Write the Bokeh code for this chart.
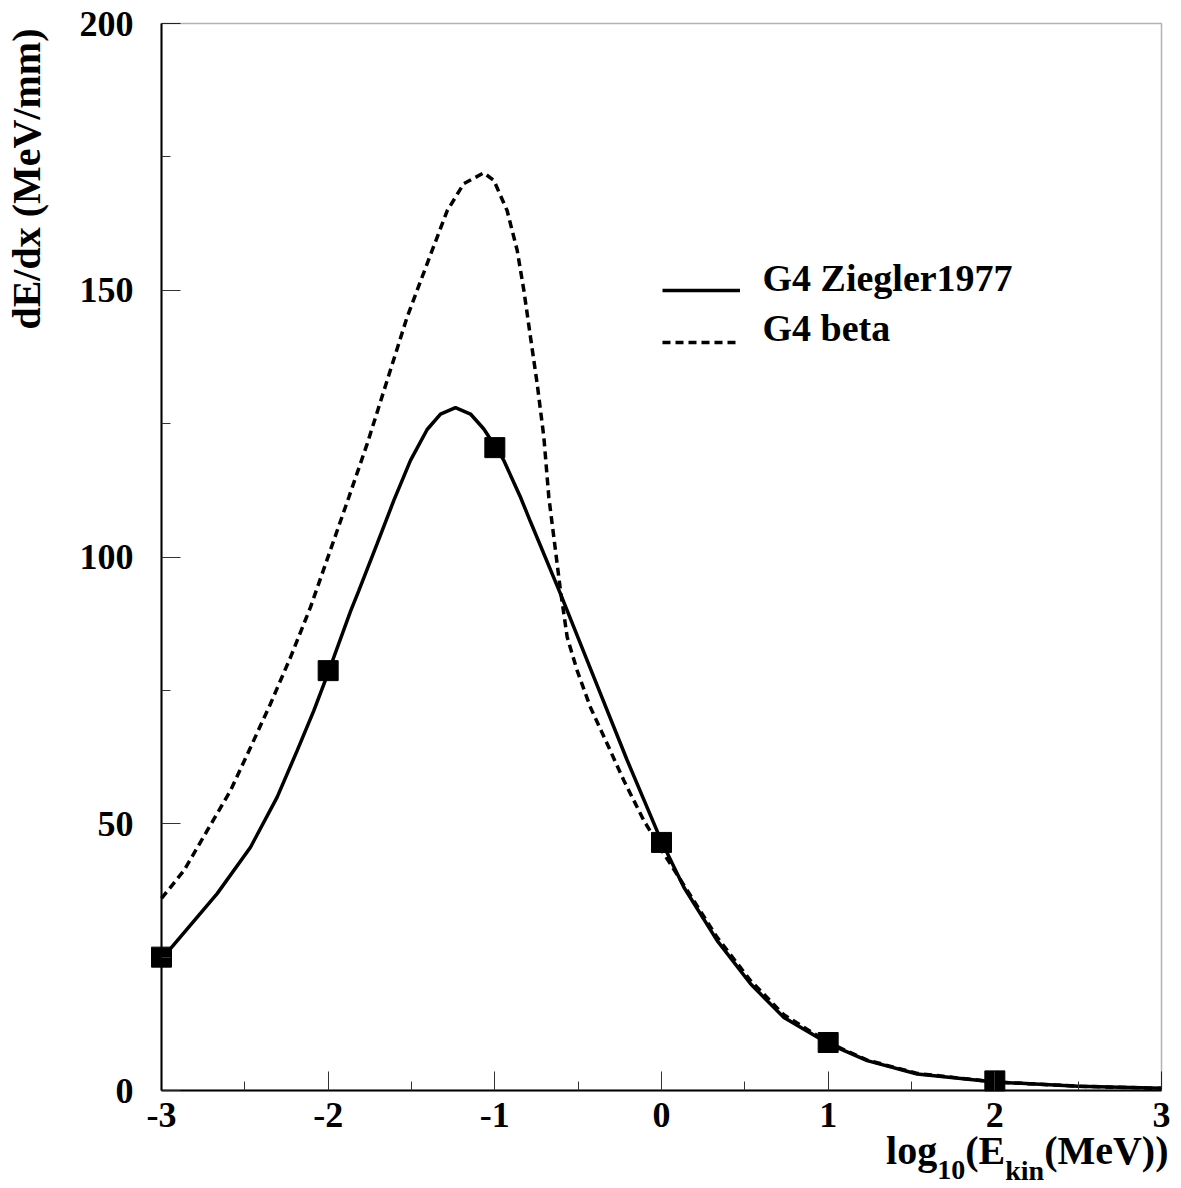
from bokeh.plotting import figure
from bokeh.models import Range1d, FixedTicker, Label, Legend, LegendItem, BoxAnnotation
from bokeh.embed import file_html
from bokeh.resources import INLINE

# ---- data ----
ziegler_x = [-3.0, -2.946, -2.666, -2.466, -2.306, -2.186, -2.086, -2.0, -1.866,
             -1.816, -1.706, -1.606, -1.506, -1.406, -1.326, -1.236, -1.146, -1.066,
             -1.0, -0.946, -0.846, -0.786, -0.606, -0.406, -0.206, 0.0, 0.134,
             0.334, 0.534, 0.734, 1.0, 1.234, 1.534, 2.0, 2.5, 3.0]
ziegler_y = [25.0, 26.6, 36.9, 45.6, 55.0, 63.7, 71.2, 78.3, 89.8,
             93.7, 102.5, 110.6, 118.1, 123.9, 126.8, 128.0, 126.8, 124.0,
             120.8, 118.1, 111.2, 106.6, 93.1, 77.5, 61.9, 46.7, 38.1,
             28.1, 20.0, 13.7, 8.8, 5.6, 3.1, 1.6, 0.8, 0.4]

beta_x = [-3.0, -2.866, -2.726, -2.586, -2.466, -2.346, -2.226, -2.106, -1.876,
          -1.766, -1.646, -1.526, -1.406, -1.286, -1.186, -1.066, -1.006, -0.926,
          -0.866, -0.826, -0.786, -0.746, -0.706, -0.676, -0.636, -0.606, -0.566,
          -0.506, -0.426, -0.326, -0.226, -0.106, 0.014, 0.134, 0.334, 0.534,
          0.734, 1.0, 1.234, 1.534, 2.0, 2.5, 3.0]
beta_y = [36.0, 41.2, 48.7, 56.2, 64.3, 72.5, 81.2, 90.6, 111.2,
          121.2, 133.1, 145.0, 155.0, 164.9, 170.0, 172.0, 170.6, 164.9,
          157.5, 150.0, 141.2, 132.5, 122.5, 111.2, 101.2, 93.7, 85.0,
          78.7, 71.8, 65.0, 58.1, 50.6, 44.4, 38.5, 28.7, 20.6,
          14.2, 9.0, 5.7, 3.2, 1.6, 0.8, 0.4]

points_x = [-3, -2, -1, 0, 1, 2]
points_y = [25.0, 78.7, 120.5, 46.5, 9.0, 1.8]

x_ticks = [-3, -2, -1, 0, 1, 2, 3]
x_minor = [-2.5, -1.5, -0.5, 0.5, 1.5, 2.5]
x_tick_labels = ["-3", "-2", "-1", "0", "1", "2", "3"]
y_ticks = [0, 50, 100, 150, 200]
y_minor = [25, 75, 125, 175]

series_names = ["G4 Ziegler1977", "G4 beta"]
y_title = "dE/dx (MeV/mm)"
x_title_parts = [("log", False), ("10", True), ("(E", False), ("kin", True), ("(MeV))", False)]

FONT = "Liberation Serif"
BASE_SHIFT = 0.37    # how far (in em) the rendered baseline falls below a label's anchor

# ---- canvas geometry (pixels) ----
W, H = 1176, 1188
FL, FR, FT, FB = 161, 1161, 23, 1090     # where the axes box sits on the canvas
xmin, xmax = x_ticks[0], x_ticks[-1]
ymin, ymax = y_ticks[0], y_ticks[-1]
dx = (xmax - xmin) / (FR - FL)           # data units per pixel
dy = (ymax - ymin) / (FB - FT)


def X(px):
    return xmin + (px - FL) * dx


def Y(py):
    return ymin + (FB - py) * dy


p = figure(width=W, height=H, output_backend="svg", toolbar_location=None,
           x_range=Range1d(X(0), X(W)), y_range=Range1d(Y(H), Y(0)),
           min_border_left=0, min_border_right=0, min_border_top=0,
           min_border_bottom=0)
p.grid.visible = False
p.background_fill_color = "white"
p.border_fill_color = "white"
p.outline_line_color = None

xa, ya = p.xaxis[0], p.yaxis[0]
xa.fixed_location = ymin
ya.fixed_location = xmin
xa.bounds = (xmin, xmax)
ya.bounds = (ymin, ymax)
for ax, ticks, minor in ((xa, x_ticks, x_minor), (ya, y_ticks, y_minor)):
    ax.ticker = FixedTicker(ticks=ticks, minor_ticks=minor)
    ax.major_tick_in = 19
    ax.major_tick_out = 0
    ax.minor_tick_in = 9
    ax.minor_tick_out = 0
    ax.major_tick_line_color = "#333333"
    ax.minor_tick_line_color = "#333333"
    ax.major_tick_line_width = 1
    ax.minor_tick_line_width = 1
    ax.axis_line_color = "black"
    ax.axis_line_width = 2
    ax.major_label_text_font = FONT
    ax.major_label_text_font_style = "bold"
    ax.major_label_text_font_size = "36px"
    ax.major_label_text_color = "black"
xa.major_label_overrides = {t: s for t, s in zip(x_ticks, x_tick_labels)}
xa.major_label_standoff = 12
ya.major_label_standoff = 28

# top and right edges of the axes box
p.add_layout(BoxAnnotation(left=xmin, right=xmax, bottom=ymin, top=ymax,
                           fill_alpha=0, line_color="black", line_width=1.5))

r_solid = p.line(ziegler_x, ziegler_y, line_color="black", line_width=3.5)
r_dash = p.line(beta_x, beta_y, line_color="black", line_width=3.5, line_dash="8 5")
p.scatter(points_x, points_y, marker="square", size=20, color="black")

# legend: line samples from Legend, entry texts as labels sitting on the sample's baseline
GH = 60
LEG_SIZE = 38
for item_name, rend, line_py, base_py in ((series_names[0], r_solid, 290, 292),
                                           (series_names[1], r_dash, 342, 342)):
    lg = Legend(items=[LegendItem(label=" ", renderers=[rend])],
                location=(662, H - (line_py + GH / 2)), orientation="vertical")
    lg.border_line_color = None
    lg.background_fill_alpha = 0
    lg.padding = 0
    lg.margin = 0
    lg.spacing = 0
    lg.glyph_width = 78
    lg.glyph_height = GH
    lg.label_height = 20
    lg.label_standoff = 0
    lg.label_text_font_size = "10px"
    p.add_layout(lg)
    p.add_layout(Label(x=X(762), y=Y(base_py - BASE_SHIFT * LEG_SIZE), text=item_name,
                       text_align="left", text_baseline="alphabetic",
                       text_font=FONT, text_font_style="bold",
                       text_font_size=f"{LEG_SIZE}px", text_color="black"))

# y-axis title (rotated, its end towards the top)
p.add_layout(Label(x=X(26), y=Y(28), text=y_title,
                   angle=1.5707963, text_align="right", text_baseline="alphabetic",
                   text_font=FONT, text_font_style="bold", text_font_size="40px",
                   text_color="black"))

# x-axis title with subscripts, right-aligned at the box's right end
em = {"l": 0.278, "o": 0.5, "g": 0.5, "1": 0.5, "0": 0.5, "(": 0.333, ")": 0.333,
      "E": 0.667, "k": 0.556, "i": 0.278, "n": 0.556, "M": 0.944, "e": 0.444, "V": 0.722}
main_size, sub_size = 40, 28
widths = [sum(em[c] for c in t) * (sub_size if s else main_size) for t, s in x_title_parts]
cur = 1168 - sum(widths)
for (t, s), w in zip(x_title_parts, widths):
    size = sub_size if s else main_size
    base_py = 1180 if s else 1165
    p.add_layout(Label(x=X(cur), y=Y(base_py - BASE_SHIFT * size), text=t,
                       text_align="left", text_baseline="alphabetic",
                       text_font=FONT, text_font_style="bold",
                       text_font_size=f"{size}px", text_color="black"))
    cur += w

open("out.html", "w").write(file_html(p, INLINE))
